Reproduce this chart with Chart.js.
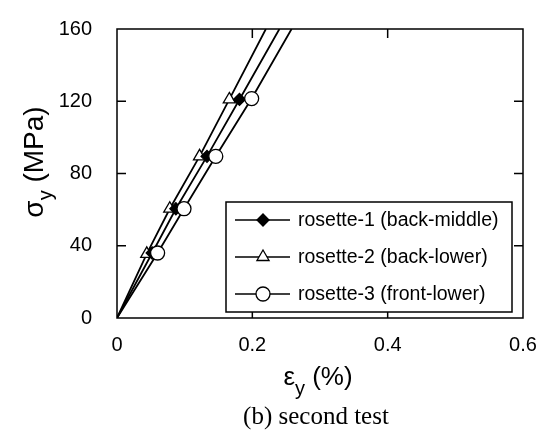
<!DOCTYPE html>
<html>
<head>
<meta charset="utf-8">
<script src="https://cdn.jsdelivr.net/npm/chart.js@4.4.0/dist/chart.umd.min.js"></script>
<style>
  html, body { margin: 0; padding: 0; background: #fff; }
  #wrap { position: relative; width: 552px; height: 439px; }
</style>
</head>
<body>
<div id="wrap"><canvas id="strain-chart"></canvas></div>
<script>
// strain (%) vs stress (MPa) for each rosette, last point is where the line leaves the frame
const seriesNames = ["rosette-1 (back-middle)", "rosette-2 (back-lower)", "rosette-3 (front-lower)"];
const rosette1Strain = [0, 0.052, 0.087, 0.133, 0.181, 0.240];
const rosette1Stress = [0, 36, 60.5, 89.5, 121, 160];
const rosette2Strain = [0, 0.044, 0.078, 0.122, 0.166, 0.220];
const rosette2Stress = [0, 35.5, 60.5, 89.5, 121, 160];
const rosette3Strain = [0, 0.060, 0.099, 0.146, 0.199, 0.258];
const rosette3Stress = [0, 36, 60.5, 89.5, 121.5, 160];
const xTicks = [0, 0.2, 0.4, 0.6];
const yTicks = [0, 40, 80, 120, 160];

const SANS = '"Liberation Sans", Arial, Helvetica, sans-serif';
const SERIF = '"Liberation Serif", "Times New Roman", serif';

function toPoints(xs, ys) {
  return xs.map((x, i) => ({ x: x, y: ys[i] }));
}
// no marker at the origin or at the frame edge
function markerSizes(n, r) {
  return Array.from({ length: n }, (_, i) => (i === 0 || i === n - 1) ? 0 : r);
}

const styles = [
  { pointStyle: "rectRot", radius: 6, fill: "#000", order: 1 },
  { pointStyle: "triangle", radius: 7, fill: "#fff", order: 2 },
  { pointStyle: "circle", radius: 7, fill: "#fff", order: 0 },
];
const strains = [rosette1Strain, rosette2Strain, rosette3Strain];
const stresses = [rosette1Stress, rosette2Stress, rosette3Stress];

const datasets = seriesNames.map((name, i) => ({
  label: name,
  data: toPoints(strains[i], stresses[i]),
  showLine: true,
  borderColor: "#000",
  borderWidth: 1.8,
  pointStyle: styles[i].pointStyle,
  pointRadius: markerSizes(strains[i].length, styles[i].radius),
  pointHoverRadius: 0,
  pointBackgroundColor: styles[i].fill,
  pointBorderColor: "#000",
  pointBorderWidth: 1.3,
  order: styles[i].order,
}));

function drawLabel(ctx, base, sub, rest, cx, cy, angle, size, subSize, subDrop) {
  ctx.save();
  ctx.translate(cx, cy);
  ctx.rotate(angle);
  const mainFont = size + "px " + SANS;
  const subFont = subSize + "px " + SANS;
  ctx.font = mainFont;
  const w1 = ctx.measureText(base).width;
  const w3 = ctx.measureText(rest).width;
  ctx.font = subFont;
  const w2 = ctx.measureText(sub).width;
  let x = -(w1 + w2 + w3) / 2;
  ctx.fillStyle = "#000";
  ctx.textBaseline = "alphabetic";
  ctx.textAlign = "left";
  ctx.font = mainFont; ctx.fillText(base, x, 0); x += w1;
  ctx.font = subFont; ctx.fillText(sub, x, subDrop); x += w2;
  ctx.font = mainFont; ctx.fillText(rest, x, 0);
  ctx.restore();
}

const framePlugin = {
  id: "frame",
  afterDatasetsDraw(chart) {
    const ctx = chart.ctx;
    const a = chart.chartArea;
    const xs = chart.scales.x, ys = chart.scales.y;
    const tick = 9;
    ctx.save();
    ctx.strokeStyle = "#000";
    ctx.lineWidth = 1.5;
    ctx.strokeRect(a.left, a.top, a.right - a.left, a.bottom - a.top);
    ctx.beginPath();
    yTicks.slice(1, -1).forEach(v => {
      const py = ys.getPixelForValue(v);
      ctx.moveTo(a.left, py); ctx.lineTo(a.left + tick, py);
      ctx.moveTo(a.right, py); ctx.lineTo(a.right - tick, py);
    });
    xTicks.slice(1, -1).forEach(v => {
      const px = xs.getPixelForValue(v);
      ctx.moveTo(px, a.bottom); ctx.lineTo(px, a.bottom - tick);
      ctx.moveTo(px, a.top); ctx.lineTo(px, a.top + tick);
    });
    ctx.stroke();

    // legend box inside the plot
    const box = { left: 226, top: 202, right: 512, bottom: 312 };
    ctx.fillStyle = "#fff";
    ctx.fillRect(box.left, box.top, box.right - box.left, box.bottom - box.top);
    ctx.lineWidth = 1.5;
    ctx.strokeRect(box.left, box.top, box.right - box.left, box.bottom - box.top);
    const rows = [220, 257, 294];
    chart.data.datasets.forEach((ds, i) => {
      const y = rows[i];
      ctx.beginPath();
      ctx.lineWidth = 1.4;
      ctx.strokeStyle = "#000";
      ctx.moveTo(235, y); ctx.lineTo(290, y);
      ctx.stroke();
      ctx.fillStyle = ds.pointBackgroundColor;
      ctx.lineWidth = 1.3;
      Chart.helpers.drawPoint(ctx, {
        pointStyle: ds.pointStyle,
        radius: styles[i].radius,
        rotation: 0,
        borderWidth: 1.3,
      }, 263, y);
      ctx.fillStyle = "#000";
      ctx.font = "19.5px " + SANS;
      ctx.textBaseline = "middle";
      ctx.textAlign = "left";
      ctx.fillText(ds.label, 298, y + 1);
    });
    ctx.restore();
  },
  afterDraw(chart) {
    const ctx = chart.ctx;
    drawLabel(ctx, "σ", "y", " (MPa)", 43, 162, -Math.PI / 2, 28, 20, 9);
    drawLabel(ctx, "ε", "y", " (%)", 318, 385, 0, 26, 20, 10);
    ctx.save();
    ctx.fillStyle = "#000";
    ctx.font = "25px " + SERIF;
    ctx.textAlign = "center";
    ctx.textBaseline = "alphabetic";
    ctx.fillText("(b) second test", 316, 424);
    ctx.restore();
  },
};

new Chart(document.getElementById("strain-chart").getContext("2d"), {
  type: "scatter",
  data: { datasets: datasets },
  options: {
    responsive: true,
    maintainAspectRatio: false,
    animation: false,
    devicePixelRatio: 1,
    layout: { padding: { top: 19.5, right: 29, left: 0, bottom: 0 } },
    plugins: { legend: { display: false }, tooltip: { enabled: false } },
    scales: {
      x: {
        type: "linear",
        min: 0,
        max: 0.6,
        afterBuildTicks: s => { s.ticks = xTicks.map(v => ({ value: v })); },
        afterFit: s => { s.height = 121; },
        grid: { display: false },
        border: { display: false },
        ticks: {
          color: "#000",
          font: { family: SANS, size: 20 },
          padding: 7,
          autoSkip: false,
          maxRotation: 0,
          callback: v => String(v),
        },
      },
      y: {
        type: "linear",
        min: 0,
        max: 160,
        afterBuildTicks: s => { s.ticks = yTicks.map(v => ({ value: v })); },
        afterFit: s => { s.width = 117; },
        grid: { display: false },
        border: { display: false },
        ticks: {
          color: "#000",
          font: { family: SANS, size: 20 },
          padding: 17,
          autoSkip: false,
        },
      },
    },
  },
  plugins: [framePlugin],
});
</script>
</body>
</html>
